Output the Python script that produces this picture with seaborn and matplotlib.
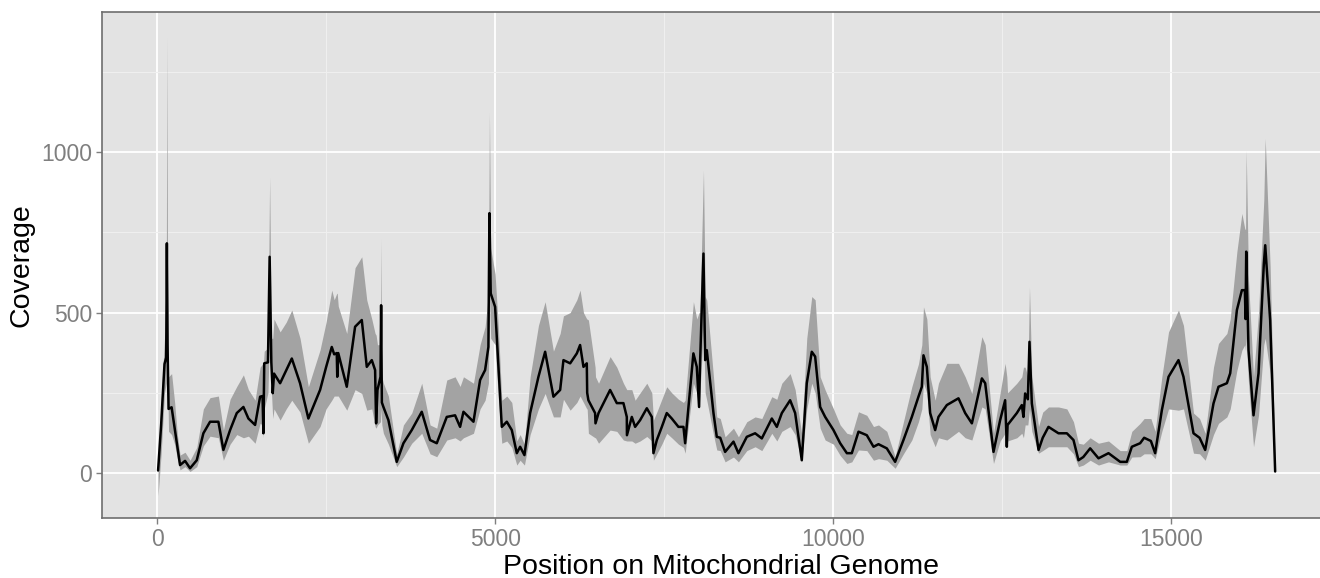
import numpy as np
import pandas as pd
import matplotlib
matplotlib.use('Agg')
import matplotlib.pyplot as plt
import seaborn as sns

# position on genome, mean coverage and ribbon bounds
pos = [15, 60, 110, 135, 145, 155, 170, 215, 260, 300, 340, 414, 488, 587, 685, 784, 907, 981,
       1080, 1179, 1277, 1351, 1450, 1524, 1560, 1573, 1585, 1640, 1665, 1690, 1711, 1730, 1820,
       1910, 1993, 2115, 2238, 2411, 2500, 2584, 2620, 2658, 2665, 2680, 2806, 2929, 3028, 3102,
       3176, 3225, 3240, 3260, 3305, 3314, 3325, 3348, 3422, 3545, 3644, 3767, 3915, 4038, 4137,
       4285, 4408, 4482, 4532, 4680, 4778, 4852, 4901, 4916, 4935, 5000, 5049, 5099, 5173, 5247,
       5321, 5370, 5434, 5518, 5641, 5740, 5863, 5962, 6011, 6110, 6209, 6257, 6307, 6356, 6362,
       6380, 6479, 6485, 6530, 6701, 6800, 6898, 6948, 6950, 7022, 7071, 7145, 7244, 7318, 7342,
       7392, 7466, 7539, 7613, 7712, 7786, 7811, 7933, 7983, 8017, 8030, 8082, 8107, 8131, 8230,
       8279, 8330, 8402, 8526, 8599, 8723, 8846, 8945, 9093, 9167, 9241, 9364, 9438, 9536, 9610,
       9684, 9734, 9808, 9882, 10005, 10104, 10203, 10276, 10375, 10498, 10597, 10671, 10794,
       10917, 11040, 11164, 11262, 11312, 11336, 11386, 11435, 11509, 11558, 11682, 11854, 11953,
       12052, 12200, 12249, 12372, 12470, 12544, 12569, 12580, 12717, 12791, 12815, 12840, 12880,
       12904, 12939, 13038, 13100, 13185, 13333, 13457, 13555, 13629, 13700, 13802, 13925, 14073,
       14246, 14344, 14418, 14541, 14600, 14700, 14763, 14862, 14961, 15108, 15182, 15330, 15420,
       15503, 15626, 15700, 15824, 15873, 15972, 16046, 16090, 16100, 16110, 16144, 16218, 16292,
       16370, 16391, 16464, 16538]

cov_mean = [8, 150, 340, 360, 716, 400, 200, 205, 140, 80, 25, 38, 15, 40, 124, 160, 160, 72,
            134, 187, 206, 170, 150, 238, 240, 124, 342, 345, 674, 345, 249, 310, 280,
            320, 357, 280, 170, 259, 330, 393, 370, 374, 300, 374, 269, 456, 477, 331,
            352, 321, 155, 259, 300, 523, 220, 206, 165, 35, 93, 134, 191, 103, 93,
            175, 180, 144, 191, 160, 290, 321, 393, 810, 560, 518, 331, 144, 160, 134,
            62, 82, 56, 187, 300, 378, 238, 259, 352, 342, 373, 399, 331, 342, 250,
            227, 187, 155, 187, 259, 218, 218, 175, 118, 175, 144, 165, 202, 175, 62,
            103, 144, 187, 170, 144, 144, 93, 373, 331, 206, 331, 684, 352, 383, 187,
            113, 110, 66, 98, 62, 113, 124, 108, 170, 144, 187, 227, 187, 40, 280,
            378, 363, 206, 175, 134, 93, 62, 62, 129, 118, 82, 90, 77,
            35, 103, 175, 238, 269, 367, 331, 187, 134, 175, 212, 233, 187,
            155, 295, 280, 66, 165, 227, 82, 150, 187, 212, 175, 248, 230,
            409, 217, 72, 110, 144, 124, 124, 103, 40, 50, 77, 46, 62,
            35, 35, 82, 93, 110, 100, 62, 196, 300, 352, 300, 124, 110,
            72, 217, 269, 280, 311, 508, 570, 570, 480, 690, 383, 180, 311,
            650, 710, 477, 5]

cov_lo = [-70, 60, 250, 280, 500, 300, 130, 120, 90, 45, 10, 20, 5, 20, 85, 115, 110, 40,
          90, 120, 110, 115, 93, 155, 150, 110, 200, 250, 450, 260, 170, 200, 165,
          200, 227, 190, 93, 145, 200, 227, 240, 240, 240, 240, 196, 260, 248, 196,
          200, 145, 140, 150, 160, 200, 150, 124, 90, 20, 50, 93, 124, 60, 51,
          103, 110, 100, 110, 124, 200, 227, 280, 560, 420, 400, 230, 93, 100, 80,
          25, 40, 25, 120, 200, 248, 175, 175, 230, 196, 220, 240, 220, 200, 200,
          124, 110, 110, 93, 134, 130, 103, 100, 100, 100, 93, 100, 114, 100, 40,
          60, 90, 124, 110, 90, 80, 62, 280, 250, 200, 250, 450, 250, 227, 120,
          72, 70, 35, 50, 35, 70, 82, 70, 124, 100, 130, 145, 120, 35, 200,
          280, 250, 140, 103, 90, 55, 30, 35, 72, 70, 40, 45, 40,
          15, 60, 103, 160, 200, 280, 250, 120, 82, 110, 103, 130, 110,
          103, 206, 200, 30, 100, 124, 80, 100, 110, 124, 110, 150, 150,
          200, 130, 62, 70, 82, 82, 82, 60, 20, 25, 40, 25, 35,
          25, 25, 50, 51, 60, 60, 45, 130, 200, 196, 200, 62, 60,
          40, 120, 155, 175, 200, 320, 383, 400, 380, 420, 280, 82, 180,
          400, 420, 311, 0]

cov_hi = [30, 220, 420, 450, 1360, 600, 300, 310, 220, 120, 56, 65, 40, 80, 200, 235, 240, 134,
          230, 270, 306, 260, 227, 330, 340, 340, 380, 390, 923, 420, 420, 480, 440,
          470, 508, 420, 269, 384, 470, 570, 540, 560, 560, 520, 435, 640, 674, 539,
          480, 435, 430, 400, 400, 731, 300, 280, 240, 60, 150, 187, 280, 150, 140,
          290, 300, 270, 300, 280, 400, 456, 560, 1125, 700, 620, 450, 227, 240, 220,
          100, 120, 90, 300, 460, 534, 380, 435, 490, 500, 540, 570, 500, 480, 480,
          477, 330, 300, 280, 363, 330, 280, 260, 260, 260, 227, 250, 280, 250, 165,
          190, 230, 269, 250, 230, 220, 227, 534, 480, 500, 500, 944, 550, 539, 300,
          175, 170, 113, 140, 113, 160, 175, 170, 238, 230, 280, 310, 260, 120, 420,
          550, 540, 300, 259, 200, 150, 124, 120, 191, 180, 145, 150, 130,
          51, 160, 269, 340, 400, 518, 480, 300, 227, 280, 342, 342, 300,
          248, 425, 400, 124, 250, 342, 300, 250, 280, 300, 330, 330, 300,
          580, 300, 145, 190, 206, 206, 200, 160, 93, 90, 110, 93, 100,
          70, 70, 130, 155, 170, 170, 130, 300, 440, 508, 460, 187, 170,
          124, 330, 404, 435, 480, 690, 809, 760, 760, 1006, 600, 300, 500,
          850, 1043, 643, 20]

df = pd.DataFrame({'pos': pos, 'mean': cov_mean, 'lo': cov_lo, 'hi': cov_hi})

sns.set_theme(style='darkgrid', rc={
    'axes.facecolor': '#E3E3E3',
    'grid.color': 'white',
    'axes.edgecolor': '#6E6E6E',
    'axes.linewidth': 1.2,
})
plt.rcParams['font.family'] = ['Liberation Sans', 'DejaVu Sans']

fig = plt.figure(figsize=(13.2, 5.78), dpi=100)
ax = fig.add_axes([0.0773, 0.1038, 0.938, 0.875])

# ribbon first, mean line on top
ax.fill_between(df['pos'], df['lo'], df['hi'], color='#A3A3A3', lw=0, zorder=2)
sns.lineplot(data=df, x='pos', y='mean', color='black', lw=1.8, ax=ax,
             estimator=None, sort=False, zorder=3)

ax.set_xlim(-814, 17234)
ax.set_ylim(-140, 1436)
ax.set_xticks([0, 5000, 10000, 15000])
ax.set_yticks([0, 500, 1000])
ax.set_xticks([2500, 7500, 12500, 17500], minor=True)
ax.set_yticks([250, 750, 1250], minor=True)
ax.grid(which='major', color='white', lw=1.3)
ax.grid(which='minor', color='#EFEFEF', lw=0.8)
ax.set_axisbelow(True)

ax.tick_params(which='major', length=4, width=1, color='#7F7F7F', labelcolor='#7F7F7F',
               labelsize=16.5, pad=3, bottom=True, left=True)
ax.tick_params(which='minor', length=0)

ax.set_xlabel('Position on Mitochondrial Genome', fontsize=20.5, color='black', labelpad=2)
ax.set_ylabel('Coverage', fontsize=20.5, color='black', labelpad=5)

fig.savefig('out.png', dpi=100)
